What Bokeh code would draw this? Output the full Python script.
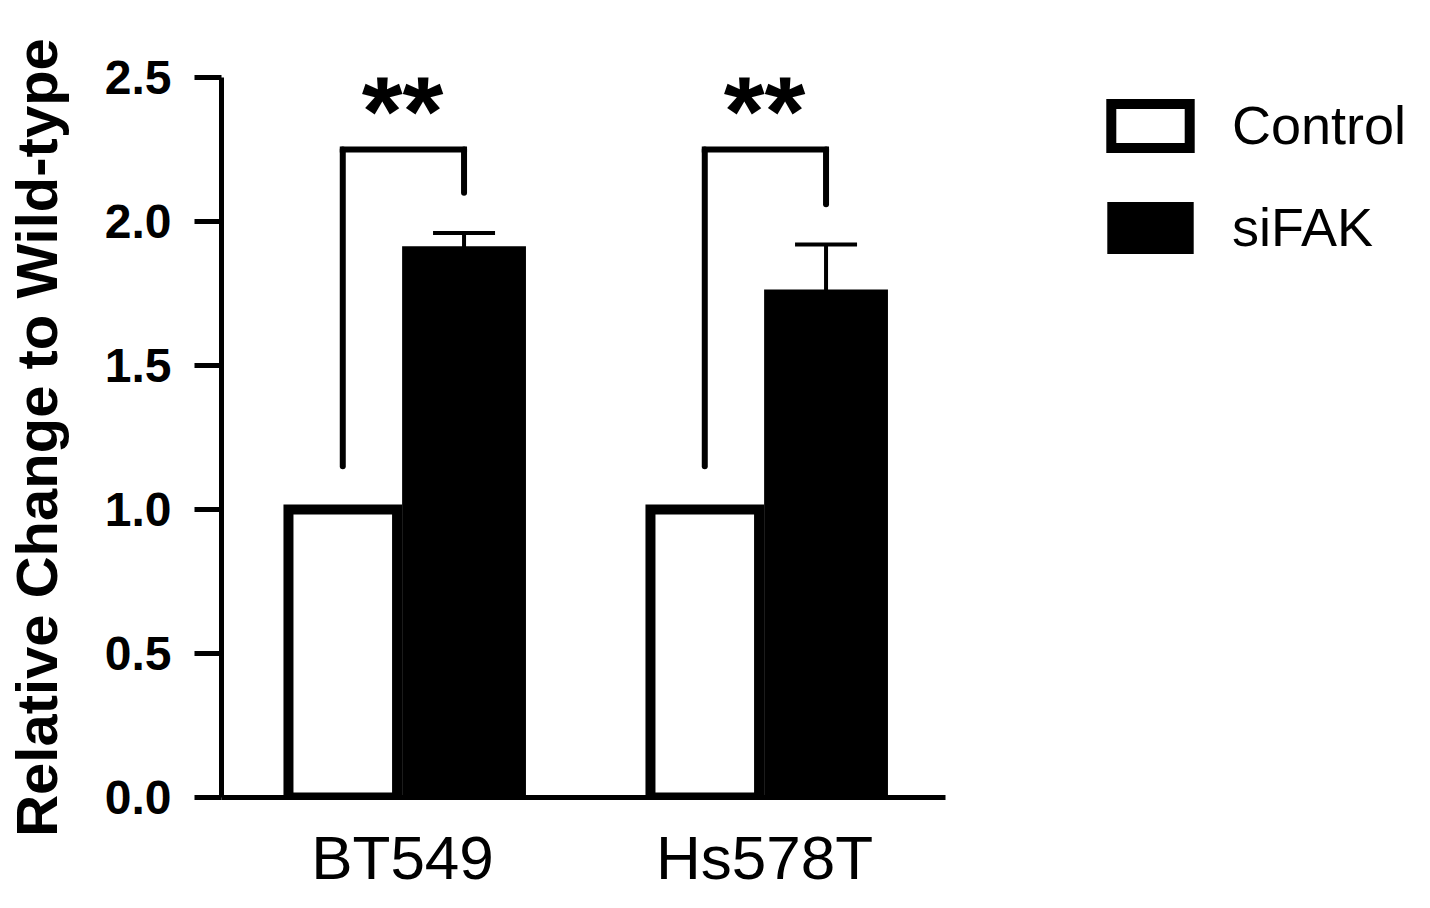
from bokeh.plotting import figure
from bokeh.models import (ColumnDataSource, FactorRange, FixedTicker, NumeralTickFormatter,
                          Legend, LegendItem, Whisker, TeeHead)
from bokeh.transform import dodge
from bokeh.core.properties import value
from bokeh.embed import file_html
from bokeh.resources import INLINE

groups = ["BT549", "Hs578T"]
control = [1.0, 1.0]
sifak = [1.90, 1.75]
sifak_err = [0.06, 0.17]
bracket_top = [2.25, 2.25]
bracket_left_end = [1.15, 1.15]
bracket_right_end = [2.10, 2.06]
stars = ["**", "**"]
y_ticks = [0.0, 0.5, 1.0, 1.5, 2.0, 2.5]

FONT = "Liberation Sans"

source = ColumnDataSource(dict(
    group=groups, control=control, sifak=sifak,
    upper=[v + e for v, e in zip(sifak, sifak_err)],
    btop=bracket_top, bleft=bracket_left_end, bright=bracket_right_end,
    stars=stars,
))

p = figure(x_range=FactorRange(factors=groups), y_range=(0, 2.5),
           frame_width=724, frame_height=720,
           min_border_left=217, min_border_top=77, min_border_right=481, min_border_bottom=103,
           output_backend="svg", toolbar_location=None)
p.outline_line_color = None
p.grid.visible = False

ctrl = p.vbar(x=dodge("group", -0.165, range=p.x_range), top="control", width=0.30, source=source,
              fill_color="white", line_color="black", line_width=10, line_join="miter")
sif = p.vbar(x=dodge("group", 0.17, range=p.x_range), top="sifak", width=0.32, source=source,
             fill_color="black", line_color="black", line_width=8, line_join="miter")

err = Whisker(base=dodge("group", 0.17, range=p.x_range), lower="sifak", upper="upper", source=source,
              line_width=4, line_color="black",
              upper_head=TeeHead(size=62, line_width=4, line_color="black"), lower_head=None)
p.add_layout(err)

# significance brackets
p.segment(x0=dodge("group", -0.165, range=p.x_range), y0="bleft",
          x1=dodge("group", -0.165, range=p.x_range), y1="btop", source=source,
          line_width=6, line_color="black", line_cap="round")
p.segment(x0=dodge("group", 0.17, range=p.x_range), y0="bright",
          x1=dodge("group", 0.17, range=p.x_range), y1="btop", source=source,
          line_width=6, line_color="black", line_cap="round")
p.segment(x0=dodge("group", -0.165, range=p.x_range), y0="btop",
          x1=dodge("group", 0.17, range=p.x_range), y1="btop", source=source,
          line_width=6, line_color="black", line_cap="square")
p.text(x=dodge("group", 0.0, range=p.x_range), y="btop", text="stars", source=source,
       text_align="center", text_baseline="alphabetic", y_offset=-38,
       text_font=value(FONT), text_font_style="bold", text_font_size="105px", text_color="black")

# y axis
p.yaxis.ticker = FixedTicker(ticks=y_ticks)
p.yaxis.formatter = NumeralTickFormatter(format="0.0")
p.yaxis.axis_line_width = 5
p.yaxis.major_tick_line_width = 5
p.yaxis.major_tick_out = 27
p.yaxis.major_tick_in = 0
p.yaxis.minor_tick_line_color = None
p.yaxis.major_label_text_font = FONT
p.yaxis.major_label_text_font_style = "bold"
p.yaxis.major_label_text_font_size = "48px"
p.yaxis.major_label_text_color = "black"
p.yaxis.major_label_standoff = 23
p.yaxis.axis_label = "Relative Change to Wild-type"
p.yaxis.axis_label_text_font = FONT
p.yaxis.axis_label_text_font_style = "bold"
p.yaxis.axis_label_text_font_size = "58px"
p.yaxis.axis_label_text_color = "black"
p.yaxis.axis_label_standoff = 33

# x axis
p.xaxis.axis_line_width = 5
p.xaxis.major_tick_line_color = None
p.xaxis.minor_tick_line_color = None
p.xaxis.major_label_text_font = FONT
p.xaxis.major_label_text_font_size = "62px"
p.xaxis.major_label_text_color = "black"
p.xaxis.major_label_standoff = 19

legend = Legend(items=[LegendItem(label="Control", renderers=[ctrl]),
                       LegendItem(label="siFAK", renderers=[sif])],
                location=(156, 539), glyph_width=98, glyph_height=55, label_standoff=33,
                spacing=40, padding=0, margin=0, border_line_color=None, background_fill_alpha=0,
                label_text_font=FONT, label_text_font_size="54px", label_text_color="black")
p.add_layout(legend, "right")

open("out.html", "w").write(file_html(p, INLINE))
